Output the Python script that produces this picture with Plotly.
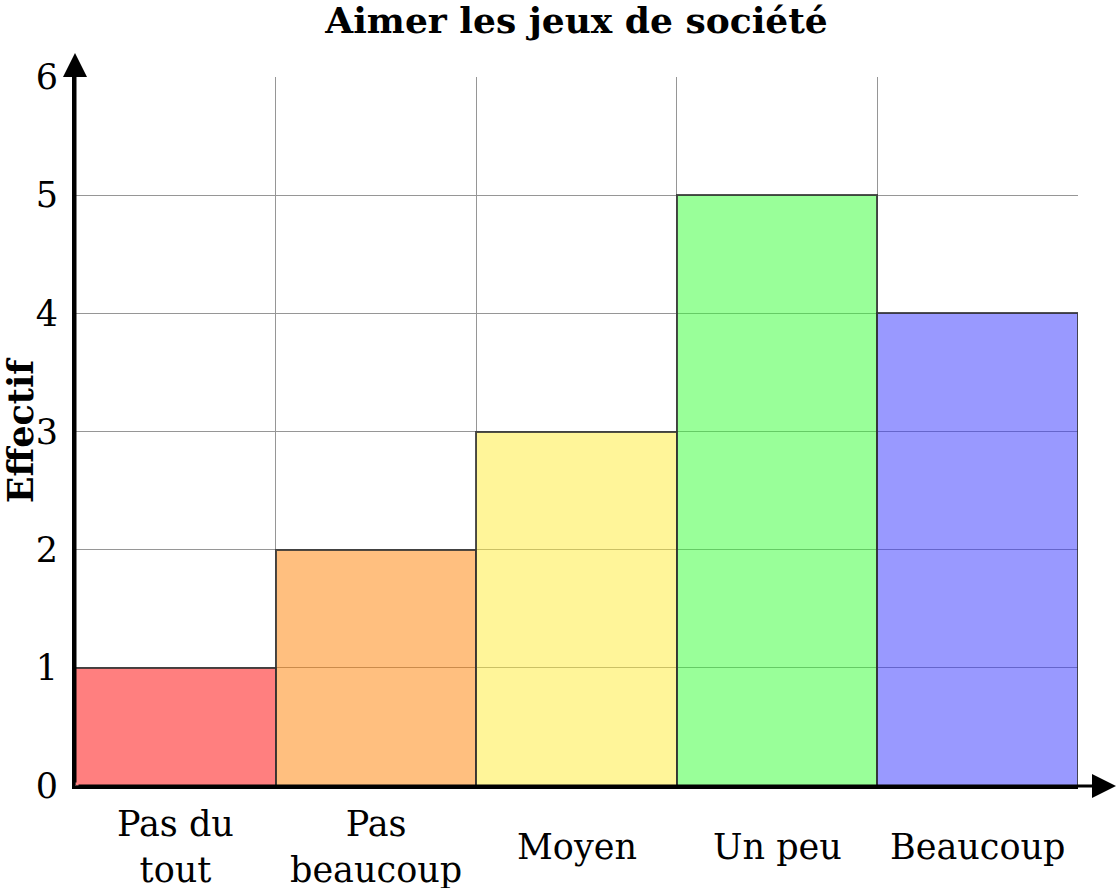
import plotly.graph_objects as go

categories = ["Pas du<br>tout", "Pas<br>beaucoup", "Moyen", "Un peu", "Beaucoup"]
values = [1, 2, 3, 5, 4]
colors = ["rgba(255,0,0,0.5)", "rgba(255,128,0,0.5)", "rgba(255,235,51,0.5)",
          "rgba(51,255,51,0.5)", "rgba(51,51,255,0.5)"]
y_ticks = [0, 1, 2, 3, 4, 5, 6]
title = "<b>Aimer les jeux de société</b>"
y_title = "<b>Effectif</b>"

FONT = "DejaVu Serif"
W, H = 1119, 888
L, R, T, B = 75, 41, 77, 102
pw, ph = W - L - R, H - T - B

fig = go.Figure()
fig.add_trace(go.Bar(
    x=categories, y=values, width=1,
    marker=dict(color=colors, line=dict(color="rgba(50,50,50,0.85)", width=2)),
    showlegend=False,
))

fig.update_layout(
    width=W, height=H,
    margin=dict(l=L, r=R, t=T, b=B, autoexpand=False),
    paper_bgcolor="white", plot_bgcolor="white",
    font=dict(family=FONT, size=35, color="black"),
    title=dict(text=title, x=(L + pw / 2) / W, xanchor="center", y=1 - 20 / H, yanchor="middle",
               font=dict(family=FONT, size=36, color="black")),
    bargap=0,
)
fig.update_xaxes(
    type="category", range=[-0.5, len(categories) - 0.5], automargin=False,
    tickson="boundaries", showgrid=True, gridcolor="rgb(150,150,150)", gridwidth=1,
    showticklabels=False, ticks="",
    showline=True, linecolor="black", linewidth=3, zeroline=False,
)
fig.update_yaxes(
    range=[0, 6], tickvals=y_ticks, ticktext=[str(v) for v in y_ticks], automargin=False,
    showgrid=True, gridcolor="rgb(150,150,150)", gridwidth=1,
    ticks="", ticklabelstandoff=7,
    showline=True, linecolor="black", linewidth=3, zeroline=False,
    title=dict(text=y_title, standoff=10, font=dict(family=FONT, size=35)),
)

# category labels, vertically centred below the axis
for c in categories:
    fig.add_annotation(x=c, xref="x", y=0, yref="paper", yshift=-61,
                       text=c, showarrow=False, yanchor="middle", xanchor="center",
                       font=dict(family=FONT, size=35))

# axis arrows
fig.add_annotation(x=(1116 - L) / pw, y=0, xref="paper", yref="paper",
                   ax=-(1116 - L) + 2, ay=0, axref="pixel", ayref="pixel",
                   text="", showarrow=True, arrowhead=2, arrowwidth=3, arrowsize=1.6,
                   arrowcolor="black")
fig.add_annotation(x=0, y=(H - B - 53) / ph, xref="paper", yref="paper",
                   ax=0, ay=(H - B - 53) - 2, axref="pixel", ayref="pixel",
                   text="", showarrow=True, arrowhead=2, arrowwidth=3, arrowsize=1.6,
                   arrowcolor="black")

fig.write_html("out.html", config={"displayModeBar": False},
               post_script="document.body.style.margin='0';")
